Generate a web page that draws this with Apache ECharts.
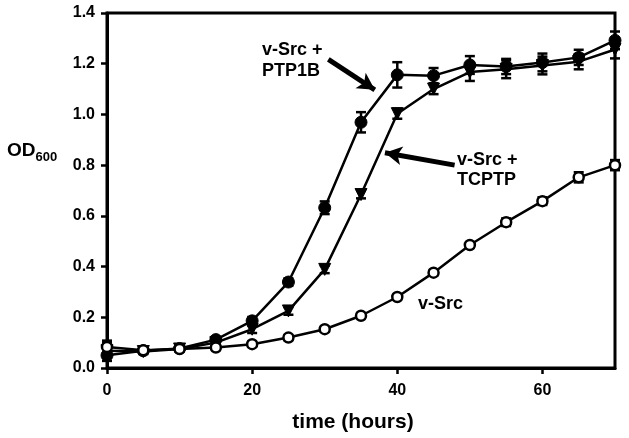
<!DOCTYPE html>
<html><head><meta charset="utf-8">
<script src="https://cdn.jsdelivr.net/npm/echarts@6/dist/echarts.min.js"></script>
<style>html,body{margin:0;padding:0;background:#fff}#c{width:629px;height:438px}</style>
</head><body><div id="c"></div>
<script>
var hours = [0,5,10,15,20,25,30,35,40,45,50,55,60,65,70];
var ptp1b = [0.05,0.068,0.077,0.112,0.186,0.339,0.632,0.969,1.156,1.153,1.195,1.189,1.205,1.225,1.292];
var ptp1bErr = [0.01,0.01,0.01,0.01,0.015,0.015,0.025,0.04,0.05,0.03,0.035,0.03,0.035,0.03,0.035];
var tcptp = [0.068,0.065,0.075,0.10,0.153,0.225,0.389,0.684,1.003,1.10,1.167,1.178,1.193,1.208,1.256];
var tcptpErr = [0.04,0.01,0.01,0.01,0.015,0.015,0.015,0.015,0.02,0.02,0.035,0.035,0.035,0.03,0.035];
var vsrc = [0.083,0.07,0.075,0.081,0.094,0.12,0.153,0.206,0.28,0.376,0.485,0.575,0.658,0.752,0.80];
var vsrcErr = [0.02,0.01,0.01,0.01,0.01,0.01,0.01,0.01,0.01,0.01,0.01,0.015,0.015,0.02,0.02];
var yTicks = [0,0.2,0.4,0.6,0.8,1.0,1.2,1.4];
var xTicks = [0,20,40,60];

var FONT = '"Liberation Sans", Arial, sans-serif';

function errData(vals, errs){
  return hours.map(function(h,i){ return [h, vals[i]-errs[i], vals[i]+errs[i]]; });
}
function errRender(params, api){
  var x = api.value(0);
  var lo = api.coord([x, api.value(1)]);
  var hi = api.coord([x, api.value(2)]);
  var w = 5;
  var st = {stroke:'#000', lineWidth:2.5};
  return {type:'group', children:[
    {type:'line', shape:{x1:lo[0],y1:lo[1],x2:hi[0],y2:hi[1]}, style:st},
    {type:'line', shape:{x1:lo[0]-w,y1:lo[1],x2:lo[0]+w,y2:lo[1]}, style:st},
    {type:'line', shape:{x1:hi[0]-w,y1:hi[1],x2:hi[0]+w,y2:hi[1]}, style:st}
  ]};
}
function pairs(vals){ return hours.map(function(h,i){ return [h, vals[i]]; }); }

var chart = echarts.init(document.getElementById('c'), null, {renderer:'canvas'});
chart.setOption({
  animation:false,
  backgroundColor:'#fff',
  grid:{left:107, top:13, right:14, bottom:69, show:true, borderColor:'#000', borderWidth:3, backgroundColor:'transparent'},
  xAxis:{
    type:'value', min:0, max:70, interval:20,
    name:'time (hours)', nameLocation:'middle', nameGap:44,
    nameTextStyle:{fontFamily:FONT, fontWeight:'bold', fontSize:21, color:'#000', padding:[0,16,0,0]},
    axisLine:{show:true, lineStyle:{color:'#000', width:3}},
    axisTick:{show:true, inside:false, length:6, lineStyle:{color:'#000', width:2.5}, customValues:xTicks},
    axisLabel:{fontFamily:FONT, fontWeight:'bold', fontSize:16, color:'#000', margin:15, customValues:xTicks},
    splitLine:{show:false}
  },
  yAxis:{
    type:'value', min:0, max:1.4, interval:0.2,
    axisLine:{show:true, lineStyle:{color:'#000', width:3}},
    axisTick:{show:true, inside:false, length:6, lineStyle:{color:'#000', width:2.5}, customValues:yTicks},
    axisLabel:{fontFamily:FONT, fontWeight:'bold', fontSize:16, color:'#000', margin:12, customValues:yTicks,
      formatter:function(v){ return v.toFixed(1); }},
    splitLine:{show:false}
  },
  graphic:[
    {type:'text', left:7, top:141, style:{text:'{a|OD}{b|600}', rich:{
      a:{fontFamily:FONT, fontWeight:'bold', fontSize:19, fill:'#000', verticalAlign:'bottom'},
      b:{fontFamily:FONT, fontWeight:'bold', fontSize:13, fill:'#000', verticalAlign:'bottom', padding:[0,0,-4,0]}
    }}},
    {type:'text', left:262, top:40, style:{text:'v-Src +\nPTP1B', fontFamily:FONT, fontWeight:'bold', fontSize:18, fill:'#000', align:'left', lineHeight:21}},
    {type:'text', left:457, top:150, style:{text:'v-Src +\nTCPTP', fontFamily:FONT, fontWeight:'bold', fontSize:18, fill:'#000', align:'left', lineHeight:20}},
    {type:'text', left:418, top:295, style:{text:'v-Src', fontFamily:FONT, fontWeight:'bold', fontSize:18, fill:'#000'}}
  ],
  series:[
    {type:'custom', name:'ptp1bErr', renderItem:errRender, data:errData(ptp1b, ptp1bErr), z:3, silent:true},
    {type:'custom', name:'tcptpErr', renderItem:errRender, data:errData(tcptp, tcptpErr), z:3, silent:true},
    {type:'custom', name:'vsrcErr', renderItem:errRender, data:errData(vsrc, vsrcErr), z:3, silent:true},
    {type:'line', name:'v-Src + PTP1B', data:pairs(ptp1b), symbol:'circle', symbolSize:12, z:4,
      lineStyle:{color:'#000', width:2.5}, itemStyle:{color:'#000', borderColor:'#000'},
      markLine:{silent:true, symbol:['none','arrow'], symbolSize:[14,17], label:{show:false},
        lineStyle:{color:'#000', width:5, type:'solid'},
        data:[[{coord:[30.5,1.217]},{coord:[36.9,1.097]}]]}},
    {type:'line', name:'v-Src + TCPTP', data:pairs(tcptp), symbol:'triangle', symbolRotate:180, symbolSize:12, z:4,
      lineStyle:{color:'#000', width:2.5}, itemStyle:{color:'#000', borderColor:'#000'},
      markLine:{silent:true, symbol:['none','arrow'], symbolSize:[14,17], label:{show:false},
        lineStyle:{color:'#000', width:5, type:'solid'},
        data:[[{coord:[47.9,0.80]},{coord:[38.3,0.849]}]]}},
    {type:'line', name:'v-Src', data:pairs(vsrc), symbol:'circle', symbolSize:10, z:5,
      lineStyle:{color:'#000', width:2.5}, itemStyle:{color:'#fff', borderColor:'#000', borderWidth:2.5}}
  ]
});
</script></body></html>
